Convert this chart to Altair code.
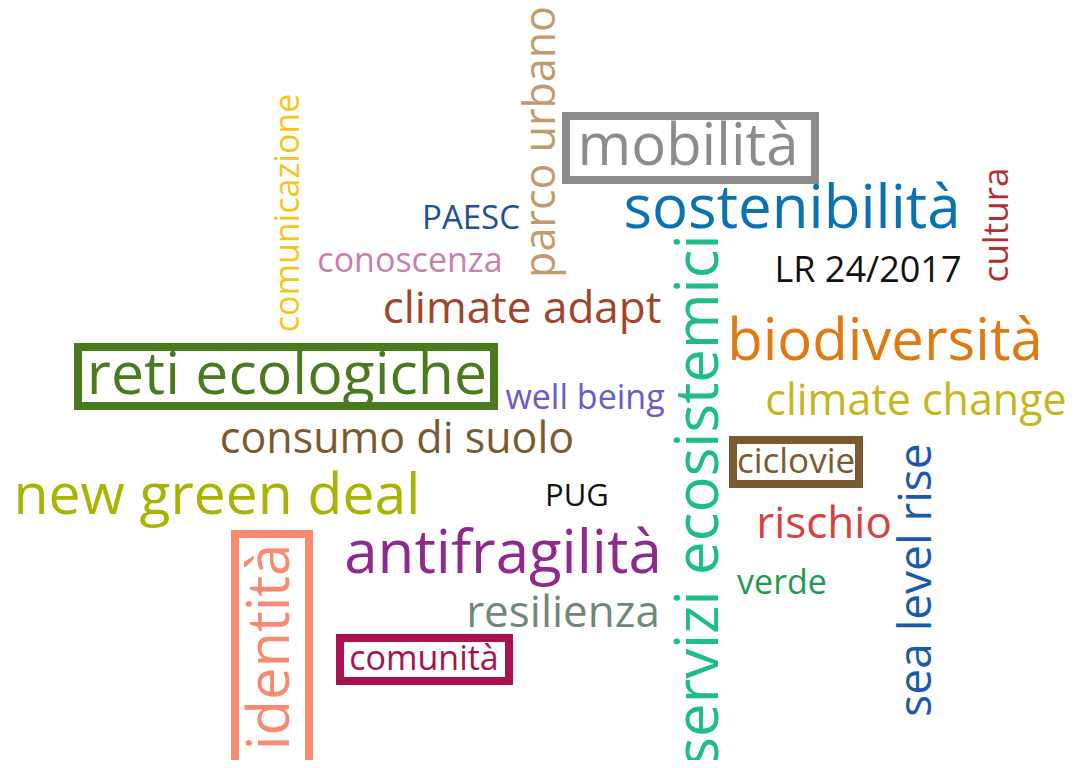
import altair as alt
import pandas as pd

words = ["parco urbano", "comunicazione", "mobilità", "PAESC", "sostenibilità", "cultura",
         "conoscenza", "LR 24/2017", "servizi ecosistemici", "climate adapt", "biodiversità",
         "reti ecologiche", "well being", "climate change", "consumo di suolo", "ciclovie",
         "new green deal", "PUG", "sea level rise", "rischio", "antifragilità", "identità",
         "verde", "resilienza", "comunità"]
word_x = [542, 289, 688, 471, 792, 997, 410, 868, 700, 522, 885, 287, 585, 916, 397, 796,
          217, 577, 917, 824, 503, 272, 782, 563, 424]
word_y = [142, 213, 148, 219, 210, 225, 262, 271, 500, 310, 343, 376, 399, 402, 440, 462,
          497, 497, 580, 525, 555, 647, 584, 614, 660]
word_size = [43, 34, 58, 33, 60, 35, 34, 36, 60, 44, 58, 59, 34, 43, 43, 35,
             57, 31, 46, 44, 60, 58, 34, 44, 34]
word_vertical = [True, True, False, False, False, True, False, False, True, False, False,
                 False, False, False, False, False, False, False, True, False, False, True,
                 False, False, False]
word_color = ["#c49a6c", "#f5c518", "#8c8c8c", "#1f4e9c", "#0a72b0", "#b03030", "#c77fb0",
              "#111111", "#1ebc8a", "#a0452a", "#e07a10", "#4a7a1e", "#6a5acd", "#c8b41e",
              "#7a5a30", "#7a5a30", "#a8b400", "#111111", "#1a5aa8", "#d94040", "#8e2a8e",
              "#f88a70", "#1e9a50", "#708878", "#a8124e"]

box_word = ["mobilità", "reti ecologiche", "ciclovie", "identità", "comunità"]
box_x1 = [566, 78, 733, 235, 340]
box_x2 = [815, 494, 859, 309, 509]
box_y1 = [116, 347, 440, 534, 638]
box_y2 = [180, 406, 484, 764, 681]
box_color = ["#8c8c8c", "#4a7a1e", "#7a5a30", "#f88a70", "#a8124e"]

df = pd.DataFrame({"word": words, "x": word_x, "y": word_y, "size": word_size,
                   "vertical": word_vertical, "color": word_color})
boxes = pd.DataFrame({"word": box_word, "x1": box_x1, "x2": box_x2, "y1": box_y1,
                      "y2": box_y2, "color": box_color})

xs = alt.Scale(domain=[8, 1066], nice=False, zero=False)
ys = alt.Scale(domain=[8, 760], nice=False, zero=False, reverse=True)
FONT = "Open Sans"

rects = alt.Chart(boxes).mark_rect(fill=None, fillOpacity=0, strokeWidth=8).encode(
    x=alt.X("x1:Q", scale=xs, axis=None), x2="x2:Q",
    y=alt.Y("y1:Q", scale=ys, axis=None), y2="y2:Q",
    stroke=alt.Stroke("color:N", scale=None),
)

horiz = alt.Chart(df).transform_filter("!datum.vertical").mark_text(
    font=FONT, align="center", baseline="middle").encode(
    x=alt.X("x:Q", scale=xs, axis=None),
    y=alt.Y("y:Q", scale=ys, axis=None),
    text="word:N",
    size=alt.Size("size:Q", scale=None),
    color=alt.Color("color:N", scale=None),
)
vert = alt.Chart(df).transform_filter("datum.vertical").mark_text(
    font=FONT, align="center", baseline="middle", angle=270).encode(
    x=alt.X("x:Q", scale=xs, axis=None),
    y=alt.Y("y:Q", scale=ys, axis=None),
    text="word:N",
    size=alt.Size("size:Q", scale=None),
    color=alt.Color("color:N", scale=None),
)

chart = alt.layer(rects, horiz, vert).properties(
    width=1058, height=752, padding=0, autosize=alt.AutoSizeParams(type="none")
).configure_view(strokeWidth=0)

chart.save("out.html", embed_options={"renderer": "svg", "actions": False})
